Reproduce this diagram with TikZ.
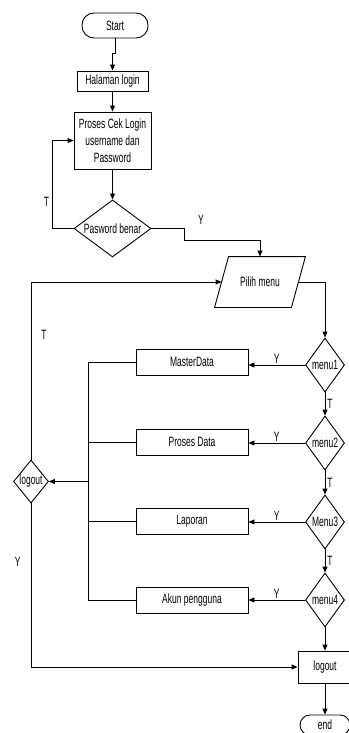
\documentclass[tikz,border=0pt]{standalone}
\usepackage{fontspec}
\setmainfont{Liberation Sans}[FakeStretch=0.63]
\usepackage{tikz}
\usetikzlibrary{arrows.meta}
\usetikzlibrary{shapes.geometric}

\tikzset{
    box/.style={draw, rectangle, inner sep=0pt, minimum width=112pt, minimum height=26pt},
    term/.style={draw, rectangle, rounded corners=12pt, inner sep=0pt},
    dec/.style={draw, diamond, inner sep=0pt},
    arr/.style={-{Triangle[length=6pt, width=5pt]}},
    lbl/.style={inner sep=1pt}
}

\begin{document}
\begin{tikzpicture}[x=1pt, y=-1pt, line width=0.9pt, font=\fontsize{13.5}{16.7}\selectfont]
        \useasboundingbox (0,0) rectangle (348,733);

        \node[term, minimum width=66pt, minimum height=25pt] (start) at (115,25.5) {Start};
        \node[box, minimum width=71pt, minimum height=20pt] (halaman) at (112.5,81) {Halaman login};
        \node[box, minimum width=77pt, minimum height=57pt, align=center] (cek) at (112.5,140.5)
            {Proses Cek Login\\username dan\\Password};
        \node[dec, minimum width=77pt, minimum height=57pt, shape aspect=1.35] (pass) at (112.5,228.5) {Pasword benar};
        \node[inner sep=0pt, minimum width=76pt, minimum height=50pt] (pilih) at (260,282) {Pilih menu};
        \draw ([xshift=7pt]pilih.north west) -- ([xshift=7pt]pilih.north east)
            -- ([xshift=-7pt]pilih.south east) -- ([xshift=-7pt]pilih.south west) -- cycle;

        \node[box] (master) at (192,362) {MasterData};
        \node[box] (prosesdata) at (192,442) {Proses Data};
        \node[box] (laporan) at (192,521.5) {Laporan};
        \node[box] (akun) at (192,600) {Akun pengguna};

        \node[dec, minimum width=39pt, minimum height=54pt, shape aspect=0.72] (menu1) at (325,365) {menu1};
        \node[dec, minimum width=39pt, minimum height=54pt, shape aspect=0.72] (menu2) at (325,443) {menu2};
        \node[dec, minimum width=39pt, minimum height=54pt, shape aspect=0.72] (menu3) at (325,522) {Menu3};
        \node[dec, minimum width=39pt, minimum height=54pt, shape aspect=0.72] (menu4) at (325,600) {menu4};

        \node[dec, minimum width=35pt, minimum height=43pt, shape aspect=0.81] (logoutd) at (31,481.5) {logout};
        \node[box, minimum width=54pt, minimum height=32pt] (logoutb) at (325,667) {logout};
        \node[term, minimum width=50pt, minimum height=20pt, rounded corners=10pt] (end) at (325,725) {end};

        \coordinate (ybend) at (184,240);
        \coordinate (bustop) at (88,362);
        \coordinate (busbot) at (88,600);

        \draw[arr] (start.south) -- ++(0,15) -| (halaman.north);
        \draw[arr] (halaman) -- (cek);
        \draw[arr] (cek) -- (pass);
        \draw[arr] (pass.west) -- ++(-21,0) |- node[lbl, pos=0.15, left=2pt]{T} (cek.west);
        \draw[arr] (pass.east) -| (ybend) -| (pilih.north);
        \node[lbl] (ylogin) at (201,220) {Y};
        \draw[arr] (pilih.east) -| (menu1.north);

        \draw[arr] (menu1.west) -- node[lbl, above]{Y} (menu1.west -| master.east);
        \draw[arr] (menu2.west) -- node[lbl, above]{Y} (menu2.west -| prosesdata.east);
        \draw[arr] (menu3.west) -- node[lbl, above]{Y} (menu3.west -| laporan.east);
        \draw[arr] (menu4.west) -- node[lbl, above]{Y} (menu4.west -| akun.east);

        \draw[arr] (menu1) -- node[lbl, right=1pt]{T} (menu2);
        \draw[arr] (menu2) -- node[lbl, right=1pt]{T} (menu3);
        \draw[arr] (menu3) -- node[lbl, right=1pt]{T} (menu4);
        \draw[arr] (menu4) -- (logoutb);
        \draw[arr] (logoutb) -- (end);

        \draw (master.west) -- (bustop) -- (busbot) -- (akun.west);
        \draw (prosesdata.west) -- (prosesdata.west -| bustop);
        \draw (laporan.west) -- (laporan.west -| bustop);
        \draw[arr] (logoutd.east -| bustop) -- (logoutd.east);

        \draw[arr] (logoutd.north) -- node[lbl, pos=0.7, right=9pt]{T} (logoutd.north |- pilih.west) -- (pilih.west);
        \draw[arr] (logoutd.south) |- node[lbl, pos=0.18, left=9pt]{Y} (logoutb.west);
    \end{tikzpicture}
\end{document}
